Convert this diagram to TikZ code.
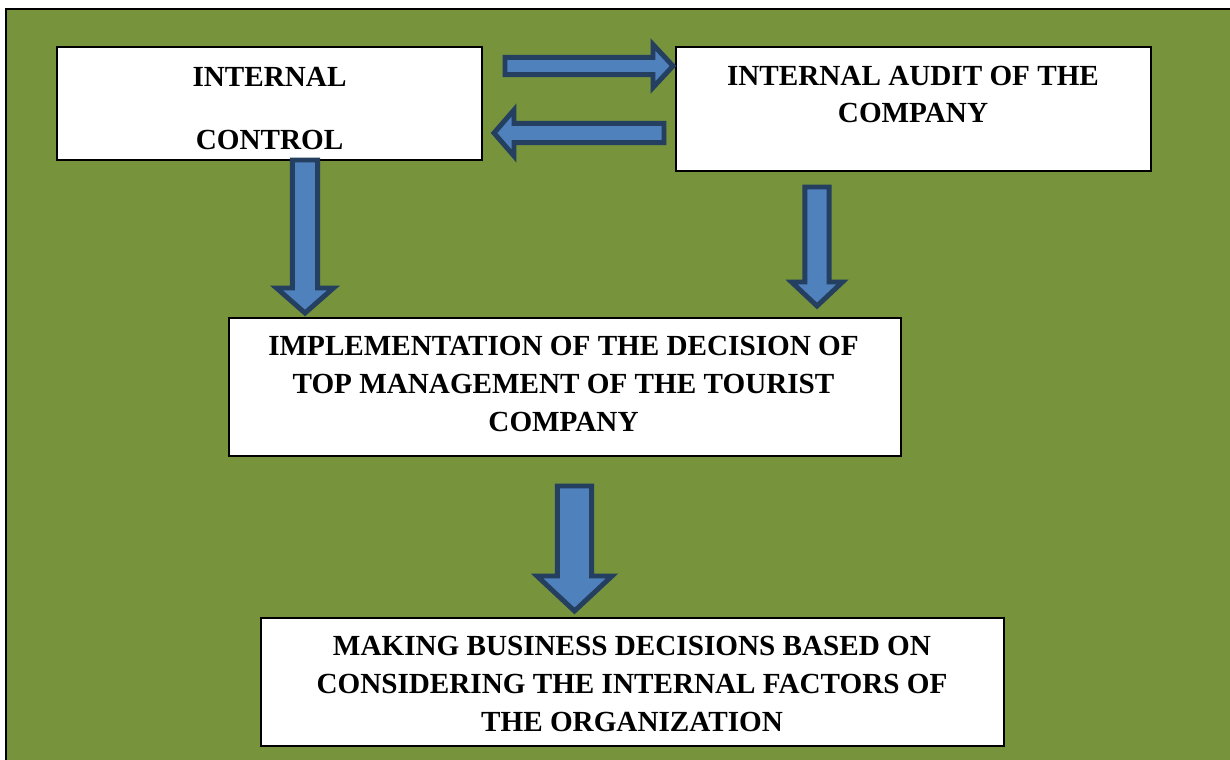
\documentclass[tikz,border=0pt]{standalone}
\usepackage{fontspec}
\setmainfont{Liberation Serif}
\usetikzlibrary{calc}

\definecolor{bggreen}{RGB}{119,147,60}
\definecolor{arrowblue}{RGB}{79,129,189}
\definecolor{arrowedge}{RGB}{36,63,96}

\tikzset{
  box/.style={draw=black, line width=0.8pt, fill=white, inner sep=0pt},
  boxtext/.style={align=center, inner sep=0pt, font=\bfseries\fontsize{16.6}{21.5}\selectfont},
  blockarrow/.style={draw=arrowedge, fill=arrowblue, line width=2.8pt, line join=miter},
}

% block arrow: start, tip, shaft half width, head half width, head length (px)
\newcommand{\blockarrow}[5]{%
  \coordinate (neck) at ($(#2)!#5*0.02cm!(#1)$);
  \draw[blockarrow] ($(#1)!#3*0.02cm!90:(#2)$) -- ($(neck)!#3*0.02cm!90:(#2)$)
    -- ($(neck)!#4*0.02cm!90:(#2)$) -- (#2)
    -- ($(neck)!#4*0.02cm!-90:(#2)$) -- ($(neck)!#3*0.02cm!-90:(#2)$)
    -- ($(#1)!#3*0.02cm!-90:(#2)$) -- cycle;
}

\begin{document}
\begin{tikzpicture}[x=0.02cm, y=-0.02cm]
\useasboundingbox (0,0) rectangle (1230,760);

% Background
\fill[bggreen] (6,9) rectangle (1230,760);
\draw[line width=1.7pt] (6,760) -- (6,9) -- (1230,9);

% Internal control
\node[box, minimum width=8.5cm, minimum height=2.26cm] (ctrl) at (269.5,103.5) {};
\node[boxtext] (ctrltext) at (269.5,108.5) {INTERNAL\\[14pt]CONTROL};

% Internal audit
\node[box, minimum width=9.5cm, minimum height=2.48cm] (audit) at (913.5,109) {};
\node[boxtext] (audittext) at (913,94.5) {INTERNAL AUDIT OF THE\\COMPANY};

% Implementation
\node[box, minimum width=13.44cm, minimum height=2.76cm] (impl) at (565,387) {};
\node[boxtext] (impltext) at (563.5,384) {IMPLEMENTATION OF THE DECISION OF\\TOP MANAGEMENT OF THE TOURIST\\COMPANY};

% Business decisions
\node[box, minimum width=14.86cm, minimum height=2.56cm] (decide) at (632.5,682) {};
\node[boxtext] (decidetext) at (632,684) {MAKING BUSINESS DECISIONS BASED ON\\CONSIDERING THE INTERNAL FACTORS OF\\THE ORGANIZATION};

% Arrows between control and audit
\coordinate (toauditA) at (505,66);
\coordinate (toauditB) at (673,66);
\blockarrow{toauditA}{toauditB}{8.6}{21.5}{20}
\coordinate (toctrlA) at (664,133);
\coordinate (toctrlB) at (494,133);
\blockarrow{toctrlA}{toctrlB}{9.6}{23}{20}

% Arrows down
\coordinate (ctrldownA) at (305,160);
\coordinate (ctrldownB) at (305,313);
\blockarrow{ctrldownA}{ctrldownB}{12.6}{28.5}{25}
\coordinate (auditdownA) at (817,187);
\coordinate (auditdownB) at (817,306);
\blockarrow{auditdownA}{auditdownB}{12.1}{25.5}{24}
\coordinate (impldownA) at (574.5,486);
\coordinate (impldownB) at (574.5,611);
\blockarrow{impldownA}{impldownB}{17.1}{37.5}{35}

\end{tikzpicture}
\end{document}
